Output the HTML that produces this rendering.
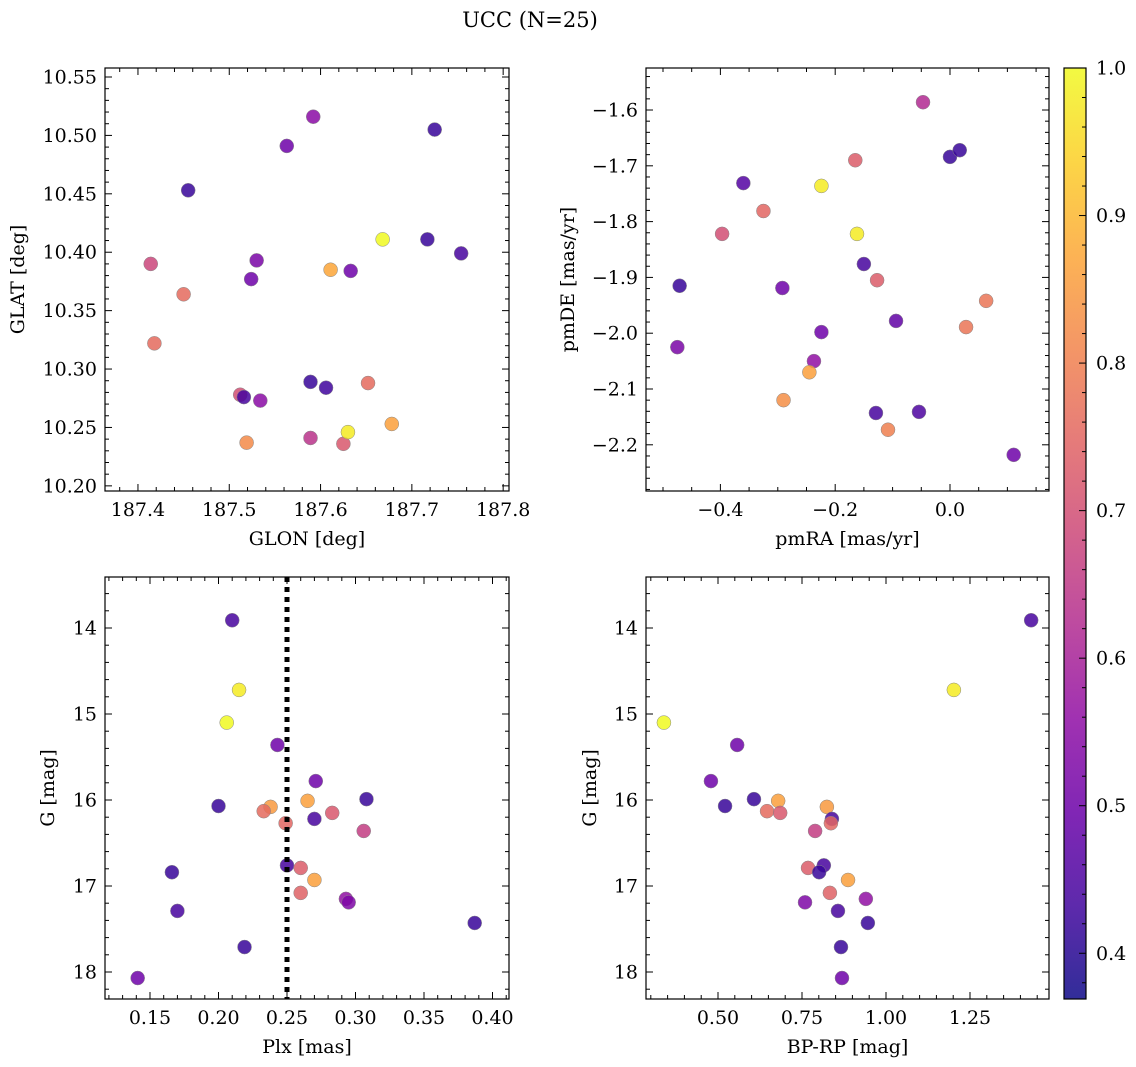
<!DOCTYPE html>
<html><head><meta charset="utf-8"><style>
html,body{margin:0;padding:0;background:#fff;overflow:hidden;}
svg{display:block;font-family:"DejaVu Serif","Liberation Serif",serif;}
</style></head><body>
<svg id="fig" width="1136" height="1067" viewBox="0 0 1136 1067" xmlns="http://www.w3.org/2000/svg">
<rect width="1136" height="1067" fill="#fff"/>
<text x="530" y="27" text-anchor="middle" font-size="21">UCC (N=25)</text>
</svg>
<script>
// ---- data ----
const skyGlon=[187.455,187.563,187.592,187.725,187.414,187.450,187.418,187.530,187.524,187.633,187.611,187.668,187.717,187.754,187.512,187.516,187.534,187.589,187.606,187.652,187.519,187.589,187.625,187.630,187.678];
const skyGlat=[10.453,10.491,10.516,10.505,10.390,10.364,10.322,10.393,10.377,10.384,10.385,10.411,10.411,10.399,10.278,10.276,10.273,10.289,10.284,10.288,10.237,10.241,10.236,10.246,10.253];
const skyProb=[0.42,0.5,0.55,0.42,0.68,0.76,0.76,0.52,0.5,0.5,0.87,1.0,0.42,0.44,0.7,0.44,0.55,0.42,0.43,0.76,0.82,0.64,0.72,0.98,0.86];
const pmRA=[-0.047,0.0,0.017,-0.165,-0.360,-0.224,-0.325,-0.397,-0.162,-0.150,-0.127,-0.471,-0.292,0.063,-0.094,0.028,-0.224,-0.475,-0.237,-0.245,-0.290,-0.129,-0.054,-0.108,0.111];
const pmDE=[-1.586,-1.684,-1.672,-1.690,-1.731,-1.736,-1.781,-1.822,-1.822,-1.876,-1.905,-1.915,-1.919,-1.942,-1.978,-1.989,-1.998,-2.025,-2.050,-2.070,-2.120,-2.143,-2.141,-2.173,-2.218];
const pmProb=[0.62,0.42,0.42,0.73,0.46,0.98,0.75,0.7,0.98,0.44,0.73,0.42,0.5,0.78,0.48,0.78,0.5,0.52,0.56,0.86,0.83,0.44,0.45,0.8,0.5];
const cmdPlx=[0.210,0.215,0.206,0.243,0.271,0.200,0.308,0.265,0.238,0.233,0.283,0.270,0.249,0.306,0.250,0.260,0.166,0.270,0.260,0.293,0.295,0.170,0.387,0.219,0.141];
const cmdBPRP=[1.432,1.202,0.339,0.557,0.479,0.521,0.607,0.679,0.824,0.646,0.685,0.839,0.836,0.789,0.815,0.768,0.801,0.887,0.833,0.940,0.759,0.857,0.946,0.866,0.869];
const cmdG=[13.91,14.72,15.10,15.36,15.78,16.07,15.99,16.01,16.08,16.13,16.15,16.22,16.27,16.36,16.76,16.79,16.84,16.93,17.08,17.15,17.19,17.29,17.43,17.71,18.07];
const cmdProb=[0.44,0.98,1.0,0.5,0.5,0.42,0.42,0.86,0.85,0.76,0.72,0.44,0.75,0.66,0.44,0.73,0.42,0.86,0.74,0.56,0.53,0.44,0.42,0.42,0.5];
const plxLine=[0.25];
const cbTicks=[0.4,0.5,0.6,0.7,0.8,0.9,1.0];
const cbMin=0.369, cbMax=1.0;

const NS="http://www.w3.org/2000/svg";
const svg=document.getElementById('fig');
const FS=19;
function mk(tag,attrs,parent){const e=document.createElementNS(NS,tag);for(const k in attrs)e.setAttribute(k,attrs[k]);(parent||svg).appendChild(e);return e;}
const plasma=[[13,8,135],[65,4,157],[106,0,168],[143,13,164],[177,42,144],[204,71,120],[225,100,98],[242,132,75],[252,166,54],[252,206,37],[240,249,33]];
function cmap(v){let t=(v-cbMin)/(cbMax-cbMin);t=Math.max(0,Math.min(1,t));const f=t*10,i=Math.min(9,Math.floor(f)),r=f-i;const a=plasma[i],b=plasma[i+1];return 'rgb('+a.map((c,k)=>Math.round(c+(b[k]-c)*r)).join(',')+')';}
function fmt(v,d){if(Math.abs(v)<1e-9)v=0;return v.toFixed(d).replace('-','\u2212');}

function panel(o){
  const g=mk('g',{});
  
  
  const sx=v=>o.x0+(v-o.xmin)/(o.xmax-o.xmin)*(o.x1-o.x0);
  const sy=o.invertY?(v=>o.y0+(v-o.ymin)/(o.ymax-o.ymin)*(o.y1-o.y0)):(v=>o.y1-(v-o.ymin)/(o.ymax-o.ymin)*(o.y1-o.y0));
  const pg=mk('g',{},g);
  
  
  for(let i=0;i<o.xs.length;i++){
    const c=mk('circle',{cx:sx(o.xs[i]),cy:sy(o.ys[i]),r:7,fill:cmap(o.cs[i]),'fill-opacity':0.85,stroke:'#888','stroke-width':0.5},pg);
    
    
  }
  if(o.extra)o.extra(g,sx,sy);
  const tg=mk('g',{stroke:'#000','stroke-width':1},g);
  const eps=1e-9;
  const nx0=Math.ceil(o.xmin/o.xminor-eps),nx1=Math.floor(o.xmax/o.xminor+eps);
  for(let n=nx0;n<=nx1;n++){
    const v=n*o.xminor;const X=sx(v);const major=Math.abs(v/o.xmajor-Math.round(v/o.xmajor))<1e-6;const L=major?7:4;
    mk('line',{x1:X,x2:X,y1:o.y1,y2:o.y1-L},tg);mk('line',{x1:X,x2:X,y1:o.y0,y2:o.y0+L},tg);
    if(major){const t=mk('text',{x:X,y:o.y1+25,'text-anchor':'middle','font-size':FS,stroke:'none',fill:'#000'},g);t.textContent=fmt(v,o.xdec);
      }
  }
  const ny0=Math.ceil(o.ymin/o.yminor-eps),ny1=Math.floor(o.ymax/o.yminor+eps);
  for(let n=ny0;n<=ny1;n++){
    const v=n*o.yminor;const Y=sy(v);const major=Math.abs(v/o.ymajor-Math.round(v/o.ymajor))<1e-6;const L=major?7:4;
    mk('line',{x1:o.x0,x2:o.x0+L,y1:Y,y2:Y},tg);mk('line',{x1:o.x1,x2:o.x1-L,y1:Y,y2:Y},tg);
    if(major){const t=mk('text',{x:o.x0-8,y:Y+6.5,'text-anchor':'end','font-size':FS,stroke:'none',fill:'#000'},g);t.textContent=fmt(v,o.ydec);
      }
  }
  mk('rect',{x:o.x0,y:o.y0,width:o.x1-o.x0,height:o.y1-o.y0,fill:'none',stroke:'#000','stroke-width':1.2},g);
  const xl=mk('text',{x:(o.x0+o.x1)/2,y:o.y1+54,'text-anchor':'middle','font-size':FS},g);xl.textContent=o.xlabel;
  
  const yx=o.ylx,yy=(o.y0+o.y1)/2;
  const yl=mk('text',{x:yx,y:yy,'text-anchor':'middle','font-size':FS,transform:'rotate(-90 '+yx+' '+yy+')'},g);yl.textContent=o.ylabel;
  
}

panel({name:'sky-panel',x0:105,x1:509,y0:68,y1:491,xmin:187.3639,xmax:187.8064,ymin:10.1956,ymax:10.5577,
  xmajor:0.1,xminor:0.02,xdec:1,ymajor:0.05,yminor:0.01,ydec:2,xs:skyGlon,ys:skyGlat,cs:skyProb,xlabel:'GLON [deg]',ylabel:'GLAT [deg]',ylx:24});
panel({name:'pm-panel',x0:646,x1:1049,y0:68,y1:491,xmin:-0.5296,xmax:0.1725,ymin:-2.2828,ymax:-1.5247,
  xmajor:0.2,xminor:0.05,xdec:1,ymajor:0.1,yminor:0.02,ydec:1,xs:pmRA,ys:pmDE,cs:pmProb,xlabel:'pmRA [mas/yr]',ylabel:'pmDE [mas/yr]',ylx:574});
panel({name:'plx-panel',x0:105,x1:509,y0:577,y1:999,xmin:0.11715,xmax:0.41204,ymin:13.407,ymax:18.314,invertY:true,
  xmajor:0.05,xminor:0.01,xdec:2,ymajor:1,yminor:0.2,ydec:0,xs:cmdPlx,ys:cmdG,cs:cmdProb,xlabel:'Plx [mas]',ylabel:'G [mag]',ylx:54,
  extra:(g,sx,sy)=>{plxLine.forEach(v=>{const l=mk('line',{x1:sx(v),x2:sx(v),y1:577,y2:999,stroke:'#000','stroke-width':5,'stroke-dasharray':'5 5'},g);
    });}});
panel({name:'cmd-panel',x0:646,x1:1049,y0:577,y1:999,xmin:0.2857,xmax:1.4851,ymin:13.407,ymax:18.314,invertY:true,
  xmajor:0.25,xminor:0.05,xdec:2,ymajor:1,yminor:0.2,ydec:0,xs:cmdBPRP,ys:cmdG,cs:cmdProb,xlabel:'BP-RP [mag]',ylabel:'G [mag]',ylx:596});

// colorbar
const cb=mk('g',{});


const defs=mk('defs',{},cb);
const grad=mk('linearGradient',{id:'cbg',x1:0,y1:1,x2:0,y2:0},defs);
for(let i=0;i<=10;i++){mk('stop',{offset:i/10,'stop-color':cmap(cbMin+(cbMax-cbMin)*i/10),'stop-opacity':0.85},grad);}
const cbx0=1064,cbx1=1086,cby0=68,cby1=999;
const cy=v=>cby1-(v-cbMin)/(cbMax-cbMin)*(cby1-cby0);
mk('rect',{x:cbx0,y:cby0,width:cbx1-cbx0,height:cby1-cby0,fill:'url(#cbg)'},cb);
for(let n=19;n<=50;n++){const v=n*0.02;const Y=cy(v);const major=(n%5===0);mk('line',{x1:cbx1,x2:cbx1-(major?7:4),y1:Y,y2:Y,stroke:'#000','stroke-width':1},cb);}
cbTicks.forEach(v=>{const t=mk('text',{x:cbx1+10,y:cy(v)+6.5,'font-size':FS},cb);t.textContent=v.toFixed(1);
  });
mk('rect',{x:cbx0,y:cby0,width:cbx1-cbx0,height:cby1-cby0,fill:'none',stroke:'#000','stroke-width':1.2},cb);
</script>
</body></html>
